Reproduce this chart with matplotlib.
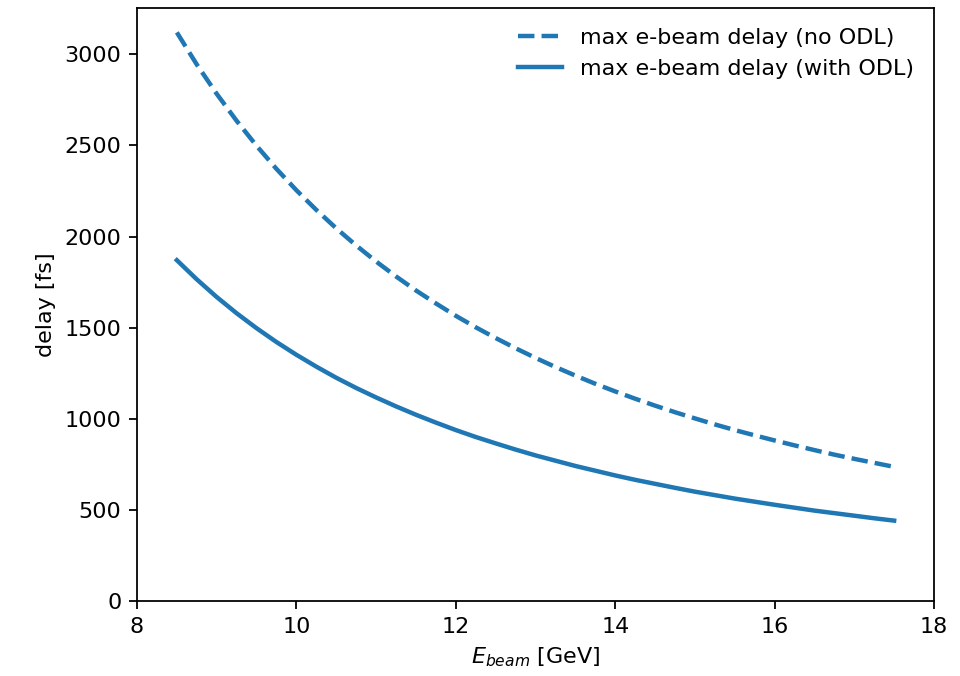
import numpy as np
import matplotlib
matplotlib.use("Agg")
import matplotlib.pyplot as plt

# beam energy [GeV] and max e-beam delay [fs]
e_beam = [8.5, 8.75, 9.0, 9.25, 9.5, 9.75, 10.0, 10.25, 10.5, 10.75,
          11.0, 11.25, 11.5, 11.75, 12.0, 12.25, 12.5, 12.75, 13.0, 13.25,
          13.5, 13.75, 14.0, 14.25, 14.5, 14.75, 15.0, 15.25, 15.5, 15.75,
          16.0, 16.25, 16.5, 16.75, 17.0, 17.25, 17.5]
delay_no_odl = [3120, 2944, 2783, 2635, 2498, 2371, 2254, 2146, 2045, 1951,
                1863, 1781, 1704, 1633, 1565, 1502, 1443, 1387, 1334, 1284,
                1237, 1192, 1150, 1110, 1072, 1036, 1002, 969, 938, 909,
                881, 854, 828, 803, 780, 758, 736]
delay_with_odl = [1870, 1765, 1668, 1579, 1497, 1421, 1351, 1286, 1225, 1169,
                  1117, 1068, 1022, 979, 938, 900, 865, 831, 799, 770,
                  741, 715, 689, 665, 643, 621, 600, 581, 562, 545,
                  528, 512, 496, 482, 468, 454, 441]

fig = plt.figure(figsize=(6.0, 4.225), dpi=160)
ax = fig.add_axes([137/960, 75/676, 797/960, 593/676])

ax.plot(e_beam, delay_no_odl, '--', color='C0', lw=2, label='max e-beam delay (no ODL)')
ax.plot(e_beam, delay_with_odl, '-', color='C0', lw=2, label='max e-beam delay (with ODL)')

ax.set_xlim(8, 18)
ax.set_ylim(bottom=0)
ax.set_xlabel(r'$E_{beam}$ [GeV]')
ax.set_ylabel('delay [fs]')
ax.legend(loc='upper right', frameon=False)

fig.savefig('out.png', dpi=160)
